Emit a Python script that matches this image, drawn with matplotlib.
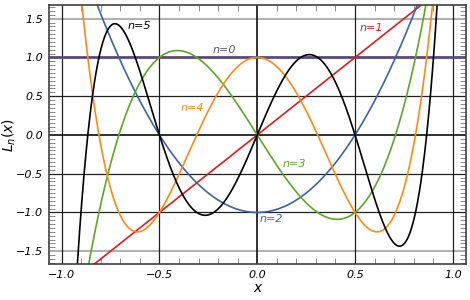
import numpy as np
import matplotlib.pyplot as plt
from matplotlib.ticker import MultipleLocator, FixedLocator

# polynomial coefficients for n = 0..5, highest power first
degrees = [0, 1, 2, 3, 4, 5]
coeffs = [
    [1],
    [2, 0],
    [4, 0, -1],
    [8, 0, -4, 0],
    [16, 0, -12, 0, 1],
    [32, 0, -32, 0, 6, 0],
]
colors = ['#5e4b7b', '#d81e1e', '#3b64a0', '#5ea52a', '#ff8a1c', '#000000']
widths = [2.0, 1.2, 1.2, 1.2, 1.2, 1.2]
label_pos = [(-0.17, 1.09), (0.585, 1.38), (0.07, -1.08), (0.19, -0.37), (-0.33, 0.35), (-0.6, 1.41)]

xticks = [-1.0, -0.5, 0.0, 0.5, 1.0]
yticks = [-1.5, -1.0, -0.5, 0.0, 0.5, 1.0, 1.5]

plt.rcParams['font.family'] = ['DejaVu Sans']
fig = plt.figure(figsize=(4.7, 3.0), dpi=100)
ax = fig.add_axes([0.104, 0.12, 0.887, 0.863])

x = np.linspace(-1.07, 1.07, 1000)

for yv in yticks:
    if abs(yv) == 1.5:
        ax.axhline(yv, color='#b0b0b0', lw=1.5, zorder=0)
    else:
        ax.axhline(yv, color='#202020', lw=1.3 if yv == 0 else 0.9, zorder=0)
for xv in xticks:
    ax.axvline(xv, color='#202020', lw=1.3 if xv == 0 else 0.9, zorder=0)

for n, c, col, lw, (lx, ly) in zip(degrees, coeffs, colors, widths, label_pos):
    ax.plot(x, np.polyval(c, x), color=col, lw=lw, zorder=2)
    ax.text(lx, ly, f'n={n}', color=col, fontsize=8, style='italic',
            ha='center', va='center', zorder=3)

ax.set_xlim(-1.065, 1.066)
ax.set_ylim(-1.665, 1.675)
ax.xaxis.set_major_locator(FixedLocator(xticks))
ax.yaxis.set_major_locator(FixedLocator(yticks))
ax.xaxis.set_minor_locator(MultipleLocator(0.1))
ax.yaxis.set_minor_locator(MultipleLocator(0.05))
ax.set_xticklabels([f'{v:.1f}'.replace('-', '\u2212') for v in xticks], style='italic', fontsize=8)
ax.set_yticklabels([f'{v:.1f}'.replace('-', '\u2212') for v in yticks], style='italic', fontsize=8)
ax.tick_params(which='major', length=0, pad=4)
ax.tick_params(which='minor', direction='in', length=4, color='#777777',
               top=True, right=True, bottom=True, left=True)
for s in ax.spines.values():
    s.set_color('#404040')
    s.set_linewidth(1.2)

ax.set_xlabel('x', style='italic', fontsize=10, labelpad=1)
ax.set_ylabel('$L_n(x)$', fontsize=10)
ax.yaxis.set_label_coords(-0.074, 0.5)

fig.savefig('out.png', dpi=100)
